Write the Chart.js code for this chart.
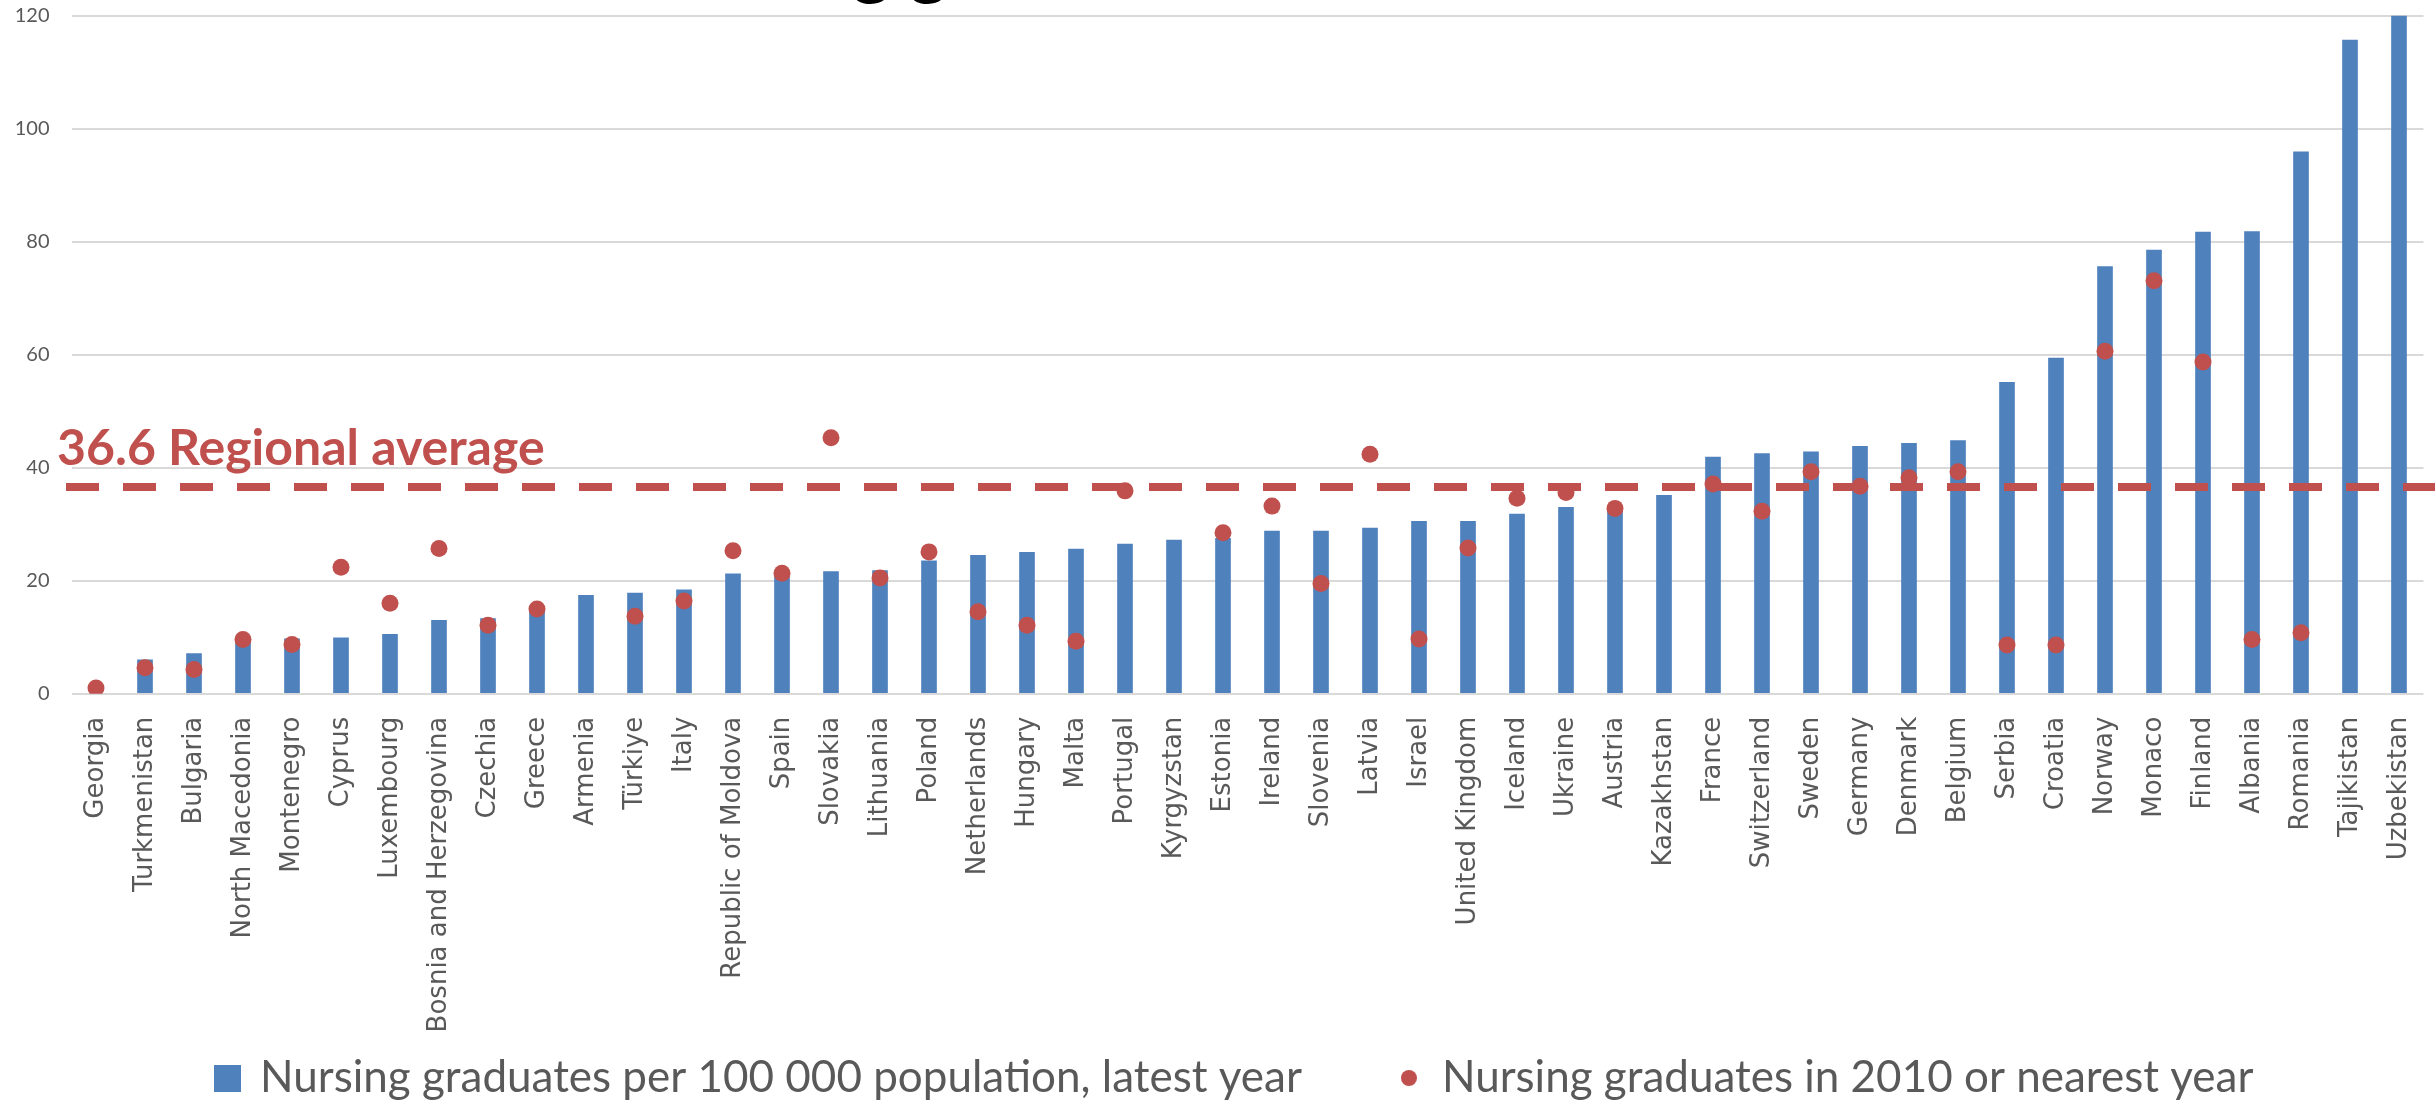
<!DOCTYPE html>
<html>
<head>
<meta charset="utf-8">
<script src="https://cdn.jsdelivr.net/npm/chart.js@4.4.1/dist/chart.umd.min.js"></script>
<style>
  html, body { margin: 0; padding: 0; background: #ffffff; }
  #wrap { width: 2435px; height: 1103px; }
</style>
</head>
<body>
<div id="wrap"><canvas id="c" width="2435" height="1103"></canvas></div>
<script>
const categories = [
  "Georgia", "Turkmenistan", "Bulgaria", "North Macedonia", "Montenegro", "Cyprus",
  "Luxembourg", "Bosnia and Herzegovina", "Czechia", "Greece", "Armenia", "Türkiye",
  "Italy", "Republic of Moldova", "Spain", "Slovakia", "Lithuania", "Poland",
  "Netherlands", "Hungary", "Malta", "Portugal", "Kyrgyzstan", "Estonia",
  "Ireland", "Slovenia", "Latvia", "Israel", "United Kingdom", "Iceland",
  "Ukraine", "Austria", "Kazakhstan", "France", "Switzerland", "Sweden",
  "Germany", "Denmark", "Belgium", "Serbia", "Croatia", "Norway",
  "Monaco", "Finland", "Albania", "Romania", "Tajikistan", "Uzbekistan"
];

const latestYear = [
  null, 6.0, 7.1, 9.5, 9.7, 9.9,
  10.5, 13.0, 13.3, 14.6, 17.4, 17.8,
  18.4, 21.2, 21.4, 21.6, 21.8, 23.5,
  24.5, 25.0, 25.6, 26.5, 27.2, 27.5,
  28.8, 28.8, 29.3, 30.5, 30.5, 31.8,
  33.0, 33.2, 35.1, 41.9, 42.5, 42.8,
  43.8, 44.3, 44.8, 55.1, 59.4, 75.6,
  78.5, 81.7, 81.8, 95.9, 115.7, 130.0
];

const year2010 = [
  1.0, 4.6, 4.3, 9.6, 8.7, 22.4,
  16.0, 25.7, 12.1, 15.0, null, 13.7,
  16.4, 25.3, 21.3, 45.3, 20.5, 25.1,
  14.5, 12.1, 9.3, 35.9, null, 28.5,
  33.2, 19.5, 42.4, 9.7, 25.8, 34.6,
  35.6, 32.8, null, 37.1, 32.3, 39.3,
  36.7, 38.2, 39.3, 8.6, 8.6, 60.6,
  73.1, 58.7, 9.6, 10.8, null, null
];

const seriesNames = [
  "Nursing graduates per 100 000 population, latest year",
  "Nursing graduates in 2010 or nearest year"
];

const yTicks = [0, 20, 40, 60, 80, 100, 120];
const regionalAverage = 36.6;
const averageLabel = "36.6 Regional average";
const titleText = "Nursing graduates";

const BLUE = "#4F81BD";
const RED = "#C0504D";
const GREY = "#595959";

function makeSquare(size, color) {
  const c = document.createElement("canvas");
  c.width = size; c.height = size;
  const x = c.getContext("2d");
  x.fillStyle = color; x.fillRect(0, 0, size, size);
  return c;
}
function makeDot(size, color) {
  const c = document.createElement("canvas");
  c.width = size; c.height = size;
  const x = c.getContext("2d");
  x.fillStyle = color; x.beginPath();
  x.arc(size / 2, size / 2, size / 2, 0, Math.PI * 2); x.fill();
  return c;
}
const legendSquare = makeSquare(27, BLUE);
const legendDot = makeDot(16, RED);

const averagePlugin = {
  id: "averageLine",
  afterDatasetsDraw(chart) {
    const { ctx, chartArea, scales } = chart;
    const y = scales.y.getPixelForValue(regionalAverage);
    ctx.save();
    ctx.strokeStyle = RED;
    ctx.lineWidth = 8;
    ctx.lineCap = "butt";
    ctx.setLineDash([33, 24]);
    ctx.beginPath();
    ctx.moveTo(chartArea.left - 5.5, y);
    ctx.lineTo(chart.width, y);
    ctx.stroke();
    ctx.setLineDash([]);
    ctx.font = "bold 50px Lato";
    ctx.fillStyle = RED;
    ctx.textBaseline = "alphabetic";
    ctx.textAlign = "left";
    ctx.fillText(averageLabel, 57, y - 22);
    ctx.restore();
  }
};

const titlePlugin = {
  id: "clippedTitle",
  afterDraw(chart) {
    const ctx = chart.ctx;
    ctx.save();
    ctx.font = "bold 74px Lato";
    ctx.fillStyle = "#000000";
    ctx.textBaseline = "alphabetic";
    ctx.textAlign = "left";
    const x0 = 852 - ctx.measureText("Nursin").width;
    ctx.fillText(titleText, x0, -10);
    ctx.restore();
  }
};

// place the legend band at the bottom of the canvas, below the rotated labels
const legendPlacePlugin = {
  id: "legendPlace",
  afterLayout(chart) {
    const lg = chart.legend;
    if (!lg) return;
    const h = 143;
    lg.top = chart.height - h;
    lg.bottom = chart.height;
    lg.height = h;
    lg.left += 23;
    lg.right += 23;
  }
};

new Chart(document.getElementById("c"), {
  type: "bar",
  data: {
    labels: categories,
    datasets: [
      {
        type: "bar",
        label: seriesNames[0],
        data: latestYear,
        backgroundColor: BLUE,
        borderWidth: 0,
        barThickness: 15,
        order: 1
      },
      {
        type: "line",
        label: seriesNames[1],
        data: year2010,
        showLine: false,
        pointRadius: 8.5,
        pointHoverRadius: 8.5,
        pointBorderWidth: 0,
        pointBackgroundColor: RED,
        backgroundColor: RED,
        borderColor: RED,
        order: 0
      }
    ]
  },
  options: {
    responsive: false,
    maintainAspectRatio: false,
    animation: false,
    devicePixelRatio: 1,
    layout: { padding: { left: 0, right: 11.5, top: 15.7, bottom: 0 } },
    scales: {
      x: {
        offset: true,
        grid: { display: false, drawTicks: true, tickLength: 23 },
        border: { display: false },
        ticks: {
          autoSkip: false,
          maxRotation: 90,
          minRotation: 90,
          padding: 0,
          color: GREY,
          font: { family: "DejaVu Sans", size: 26 }
        },
        afterFit(scale) { scale.height = 1103 - 1 - 693.7; }
      },
      y: {
        min: yTicks[0],
        max: yTicks[yTicks.length - 1],
        afterBuildTicks(scale) { scale.ticks = yTicks.map(v => ({ value: v })); },
        ticks: {
          padding: 0,
          color: GREY,
          font: { family: "Lato", size: 20 }
        },
        grid: { color: "#D9D9D9", lineWidth: 2, drawTicks: true, tickLength: 22, tickColor: "rgba(0,0,0,0)" },
        border: { display: false },
        afterFit(scale) { scale.width = 71.5; }
      }
    },
    plugins: {
      tooltip: { enabled: false },
      legend: {
        position: "bottom",
        maxHeight: 1,
        labels: {
          usePointStyle: true,
          boxWidth: 22,
          boxHeight: 22,
          padding: 96,
          color: GREY,
          font: { family: "Lato", size: 44 },
          generateLabels() {
            return [
              { text: seriesNames[0], fillStyle: BLUE, strokeStyle: BLUE, lineWidth: 0, pointStyle: legendSquare, datasetIndex: 0, hidden: false, fontColor: GREY },
              { text: seriesNames[1], fillStyle: RED, strokeStyle: RED, lineWidth: 0, pointStyle: legendDot, datasetIndex: 1, hidden: false, fontColor: GREY }
            ];
          }
        }
      }
    }
  },
  plugins: [legendPlacePlugin, averagePlugin, titlePlugin]
});
</script>
</body>
</html>
